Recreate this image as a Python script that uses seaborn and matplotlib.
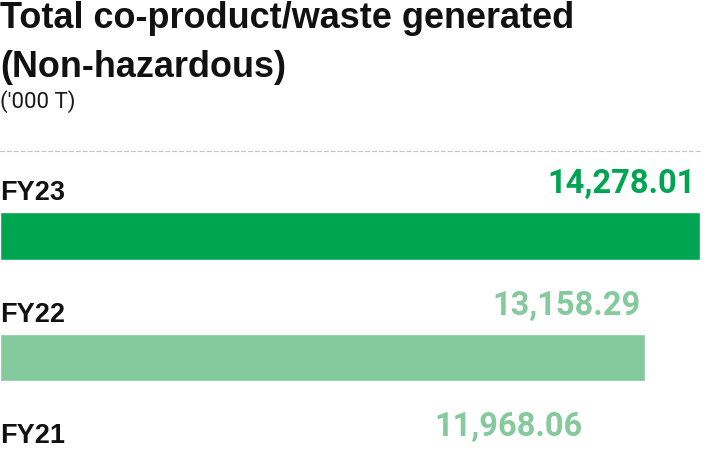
import matplotlib
matplotlib.use("Agg")
import matplotlib.pyplot as plt
import seaborn as sns

# --- data ---
years = ["FY23", "FY22", "FY21"]
values = [14278.01, 13158.29, 11968.06]
bar_colors = ["#00a551", "#84ca9c", "#84ca9c"]

title_1 = "Total co-product/waste generated"
title_2 = "(Non-hazardous)"
unit = "('000 T)"

# --- layout (pixels, figure is 708x454 @ 100 dpi) ---
W, H = 708, 454
BAR_W = 0.395          # bar thickness in category units
ROW_PX = 121.5         # distance between bar centres
FIRST_CENTER = 236     # centre of the first bar
AX_TOP = 151           # dashed rule

sns.set_theme(style="white")
plt.rcParams["font.family"] = ["Liberation Sans", "DejaVu Sans"]

fig = plt.figure(figsize=(W / 100, H / 100), dpi=100)
ax = fig.add_axes([0, 0, 700 / W, 1 - AX_TOP / H])

sns.barplot(x=values, y=years, hue=years, palette=bar_colors, orient="h",
            width=BAR_W, saturation=1, legend=False, ax=ax)

ax.set_xlim(0, max(values))
ax.set_ylim((H - FIRST_CENTER) / ROW_PX, -(FIRST_CENTER - AX_TOP) / ROW_PX)
ax.set_xticks([])
ax.set_yticks([])
ax.set_xlabel("")
ax.set_ylabel("")
for side in ["left", "right", "bottom"]:
    ax.spines[side].set_visible(False)
ax.spines["top"].set_color("#c4c4c4")
ax.spines["top"].set_linewidth(0.8)
ax.spines["top"].set_linestyle((0, (3.6, 2.6)))

# labels above each bar
for i, (yr, v, c) in enumerate(zip(years, values, bar_colors)):
    top = i - BAR_W / 2
    ax.annotate(yr, xy=(0, top), xytext=(0, 12), textcoords="offset pixels",
                ha="left", va="baseline", fontsize=19.5, fontweight="bold",
                color="#111111", annotation_clip=False)
    ax.annotate(f"{v:,.2f}", xy=(v, top), xytext=(-4, 19), textcoords="offset pixels",
                ha="right", va="baseline", fontsize=23.5, fontweight="bold",
                color=c, family=["Roboto", "DejaVu Sans"], annotation_clip=False)

# titles
fig.text(0, 1 - 28 / H, title_1, ha="left", va="baseline", fontsize=25.9,
         fontweight="bold", color="#111111")
fig.text(0, 1 - 77 / H, title_2, ha="left", va="baseline", fontsize=25.9,
         fontweight="bold", color="#111111")
fig.text(0, 1 - 108 / H, unit, ha="left", va="baseline", fontsize=16,
         fontweight="normal", color="#1a1a1a", family=["Roboto", "DejaVu Sans"])

fig.savefig("out.png", dpi=100)
